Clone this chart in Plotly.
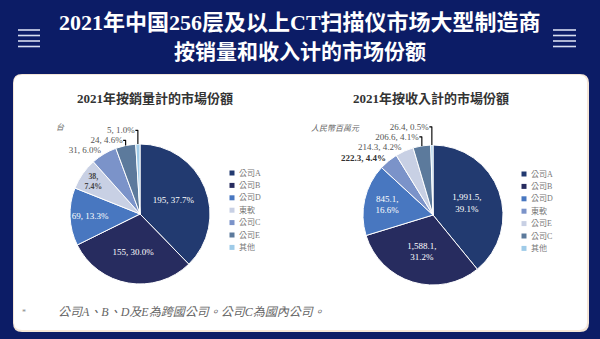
import plotly.graph_objects as go

W, H = 600, 339

# ---- data -------------------------------------------------------------
vol_labels = ["公司A", "公司B", "公司D", "東軟", "公司C", "公司E", "其他"]
vol_units = [195, 155, 69, 38, 31, 24, 5]

rev_labels = ["公司A", "公司B", "公司D", "東軟", "公司E", "公司C", "其他"]
rev_rmb_mn = [1991.5, 1588.1, 845.1, 222.3, 214.3, 206.6, 26.4]

# ---- styling -----------------------------------------------------------
NAVY_BG = "#0c1c66"
vol_colors = ["#223a70", "#272c5f", "#4877c0", "#c8d0e4", "#7b93c9", "#5c7a9c", "#9fcbe8"]
rev_colors = ["#223a70", "#272c5f", "#4877c0", "#7b93c9", "#c8d0e4", "#5c7a9c", "#9fcbe8"]
SERIF = "Liberation Serif, Noto Sans CJK TC, serif"
TITLE_FONT = "Liberation Serif, Noto Sans CJK SC, serif"


def px(x):
    return x / W


def py(y):
    return 1 - y / H


def rounded_rect(x0, y0, x1, y1, r):
    """SVG path (paper coords) for a rounded rectangle given in pixels."""
    pts = [
        f"M {px(x0 + r)},{py(y0)}",
        f"L {px(x1 - r)},{py(y0)}",
        f"Q {px(x1)},{py(y0)} {px(x1)},{py(y0 + r)}",
        f"L {px(x1)},{py(y1 - r)}",
        f"Q {px(x1)},{py(y1)} {px(x1 - r)},{py(y1)}",
        f"L {px(x0 + r)},{py(y1)}",
        f"Q {px(x0)},{py(y1)} {px(x0)},{py(y1 - r)}",
        f"L {px(x0)},{py(y0 + r)}",
        f"Q {px(x0)},{py(y0)} {px(x0 + r)},{py(y0)}",
        "Z",
    ]
    return " ".join(pts)


def pie_domain(cx, cy, r):
    return dict(x=[px(cx - r), px(cx + r)], y=[py(cy + r), py(cy - r)])


fig = go.Figure()

# ---- left pie: share by units sold -----------------------------------
vol_tmpl = ["%{value:,}, %{percent:.1%}"] * len(vol_units)
vol_tmpl[3] = "<b>%{value:,},<br>%{percent:.1%}</b>"
vol_pos = ["inside", "inside", "inside", "inside", "outside", "outside", "outside"]
vol_tcol = ["white", "white", "white", "#444444", "#555555", "#555555", "#555555"]

fig.add_trace(go.Pie(
    labels=vol_labels, values=vol_units, sort=False, direction="clockwise",
    rotation=0, domain=pie_domain(140, 214, 70),
    marker=dict(colors=vol_colors, line=dict(color="white", width=1)),
    texttemplate=vol_tmpl, textposition=vol_pos,
    insidetextorientation="horizontal",
    textfont=dict(family=SERIF, size=9, color=vol_tcol),
    showlegend=False, hoverinfo="label+value+percent",
))

# ---- right pie: share by revenue -------------------------------------
rev_tmpl = ["%{value:,.1f},<br>%{percent:.1%}"] * 3 + ["%{value:,.1f}, %{percent:.1%}"] * 4
rev_tmpl[3] = "<b>%{value:,.1f}, %{percent:.1%}</b>"
rev_pos = ["inside"] * 3 + ["outside"] * 4
rev_tcol = ["white"] * 3 + ["#333333", "#555555", "#555555", "#555555"]

fig.add_trace(go.Pie(
    labels=rev_labels, values=rev_rmb_mn, sort=False, direction="clockwise",
    rotation=0, domain=pie_domain(433, 215, 70),
    marker=dict(colors=rev_colors, line=dict(color="white", width=1)),
    texttemplate=rev_tmpl, textposition=rev_pos,
    insidetextorientation="horizontal",
    textfont=dict(family=SERIF, size=9, color=rev_tcol),
    showlegend=False, hoverinfo="label+value+percent",
))

shapes = []
annotations = []

# white content panel with a faint warm edge
shapes.append(dict(type="path", xref="paper", yref="paper",
                   path=rounded_rect(13, 74, 589, 332, 9),
                   fillcolor="#f4e6d8", line=dict(width=0), layer="below"))
shapes.append(dict(type="path", xref="paper", yref="paper",
                   path=rounded_rect(14, 75, 587, 330, 8),
                   fillcolor="#ffffff", line=dict(width=0), layer="below"))

# menu glyphs either side of the title
for x0, x1 in [(18, 40), (553, 576)]:
    for y in [30, 35.5, 41, 46.5]:
        shapes.append(dict(type="line", xref="paper", yref="paper",
                           x0=px(x0), x1=px(x1), y0=py(y), y1=py(y),
                           line=dict(color="#d8def0", width=1.6)))

# header titles
annotations.append(dict(text="<b>2021年中国256层及以上CT扫描仪市场大型制造商</b>",
                        x=px(300), y=py(23), xref="paper", yref="paper",
                        showarrow=False, xanchor="center", yanchor="middle",
                        font=dict(family=TITLE_FONT, size=22, color="white")))
annotations.append(dict(text="<b>按销量和收入计的市场份额</b>",
                        x=px(300), y=py(52), xref="paper", yref="paper",
                        showarrow=False, xanchor="center", yanchor="middle",
                        font=dict(family=TITLE_FONT, size=21, color="white")))

# chart subtitles
for txt, cx in [("<b>2021年按銷量計的市場份額</b>", 155), ("<b>2021年按收入計的市場份額</b>", 431)]:
    annotations.append(dict(text=txt, x=px(cx), y=py(98), xref="paper", yref="paper",
                            showarrow=False, xanchor="center", yanchor="middle",
                            font=dict(family=SERIF, size=13, color="#333333")))

# unit captions
annotations.append(dict(text="<i>台</i>", x=px(54), y=py(127), xref="paper", yref="paper",
                        showarrow=False, xanchor="left", yanchor="middle",
                        font=dict(family=SERIF, size=8, color="#666666")))
annotations.append(dict(text="<i>人民幣百萬元</i>", x=px(309), y=py(128), xref="paper", yref="paper",
                        showarrow=False, xanchor="left", yanchor="middle",
                        font=dict(family=SERIF, size=8, color="#666666")))

# compact legends (square swatch + label)
def add_legend(labels, colors, sq_x, txt_x, y0, step):
    for i, (lab, col) in enumerate(zip(labels, colors)):
        y = y0 + i * step
        shapes.append(dict(type="rect", xref="paper", yref="paper",
                           x0=px(sq_x - 2.5), x1=px(sq_x + 2.5),
                           y0=py(y + 2.5), y1=py(y - 2.5),
                           fillcolor=col, line=dict(width=0)))
        annotations.append(dict(text=lab, x=px(txt_x), y=py(y), xref="paper", yref="paper",
                                showarrow=False, xanchor="left", yanchor="middle",
                                font=dict(family=SERIF, size=8, color="#777777")))


add_legend(vol_labels, vol_colors, 232, 237, 173, 12.4)
add_legend(rev_labels, rev_colors, 524, 529, 174, 12.4)

# footnote
annotations.append(dict(text="*", x=px(20), y=py(312), xref="paper", yref="paper",
                        showarrow=False, xanchor="left", yanchor="middle",
                        font=dict(family=SERIF, size=8, color="#888888")))
annotations.append(dict(text="<i>公司A、B、D及E為跨國公司。公司C為國內公司。</i>",
                        x=px(56), y=py(312), xref="paper", yref="paper",
                        showarrow=False, xanchor="left", yanchor="middle",
                        font=dict(family=SERIF, size=12, color="#666666")))

fig.update_layout(
    width=W, height=H, margin=dict(l=0, r=0, t=0, b=0),
    paper_bgcolor=NAVY_BG, plot_bgcolor=NAVY_BG,
    shapes=shapes, annotations=annotations, showlegend=False,
)

fig.write_html("out.html")
